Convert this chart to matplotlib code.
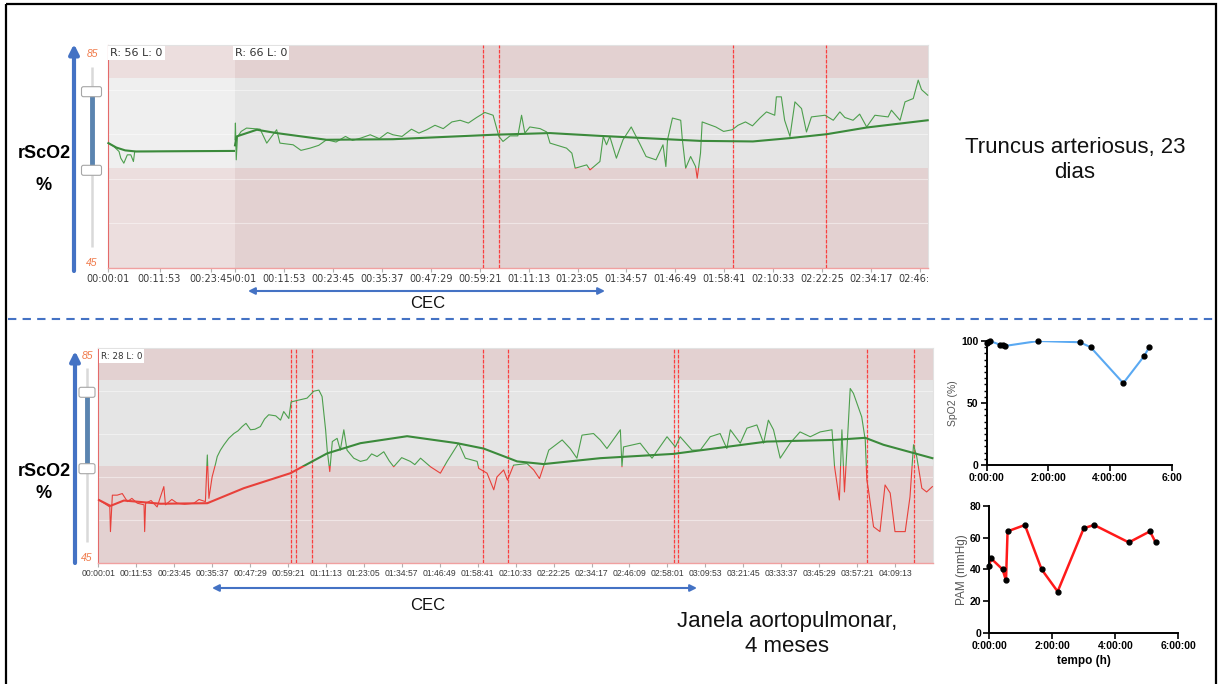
import numpy as np
import matplotlib.pyplot as plt
from matplotlib.patches import Rectangle, FancyBboxPatch
from matplotlib.transforms import Bbox, TransformedBbox

plt.rcParams['font.family'] = ['Liberation Sans', 'DejaVu Sans']

W, H = 1220, 684

# monitor scale and alarm band (rScO2 %)
Y_MIN, Y_MAX = 45, 85
LOW, HIGH = 63, 79
GRID_Y = [53, 61, 69, 77]
TICK_STEP = 712          # seconds between monitor time labels

# ── case 1: truncus arteriosus, 23 dias ──────────────────────────────
# session 1 (minutes, %)
tr1_t = [0.16, 1.4, 2.6, 3.0, 3.7, 4.5, 5.3, 5.9, 6.2, 10.0, 29.2]
tr1_v = [67.4, 66.8, 65.9, 64.7, 63.8, 65.3, 65.3, 64.1, 65.9, 65.9, 66.0]
tr1_trend_t = [0.16, 2.0, 4.0, 6.5, 29.2]
tr1_trend_v = [67.4, 66.6, 66.1, 65.9, 66.0]

# session 2 (minutes, %)
tr2_t = [0.0, 0.1, 0.3, 0.6, 1.5, 2.8, 6.1, 7.7, 10.1, 10.9,
         14.1, 16.0, 18.2, 20.3, 22.2, 24.5, 26.8, 28.5, 30.5, 32.8,
         35.0, 37.0, 38.3, 40.5, 42.8, 44.6, 46.5, 48.5, 50.5, 52.6,
         54.6, 56.6, 58.6, 60.6, 62.6, 64.0, 65.0, 66.7, 68.6, 69.5,
         70.3, 71.5, 74.0, 75.6, 76.4, 80.4, 81.7, 82.5, 85.3, 86.1,
         88.5, 89.3, 90.1, 90.9, 92.5, 94.1, 96.1, 98.1, 99.7, 102.1,
         103.8, 104.5, 104.9, 106.1, 108.1, 108.5, 109.3, 110.5, 111.7, 112.1,
         112.9, 113.3, 116.6, 118.5, 120.6, 122.0, 123.8, 125.5, 127.3, 128.9,
         130.9, 131.3, 132.5, 133.3, 134.6, 135.8, 137.4, 138.6, 139.8, 143.1,
         145.1, 146.7, 147.9, 149.9, 151.5, 153.2, 155.2, 158.4, 159.2, 161.3,
         162.5, 164.5, 165.7, 166.5, 168.0]
tr2_v = [68.0, 71.0, 64.4, 68.5, 69.5, 70.1, 69.9, 67.4, 69.8, 67.4,
         67.1, 66.1, 66.5, 67.0, 68.0, 67.6, 68.6, 67.9, 68.3, 68.9,
         68.2, 69.3, 68.9, 68.6, 69.9, 69.2, 69.8, 70.6, 70.0, 71.2,
         71.5, 71.0, 72.0, 72.9, 72.4, 68.6, 67.7, 68.7, 68.7, 72.4,
         69.2, 70.3, 70.0, 69.4, 67.4, 66.5, 65.6, 62.9, 63.5, 62.6,
         64.1, 68.6, 67.1, 68.6, 64.7, 68.0, 70.3, 67.4, 65.0, 64.4,
         67.1, 63.2, 68.0, 71.9, 71.5, 68.0, 62.9, 65.0, 63.2, 61.1,
         65.6, 71.2, 70.3, 69.5, 69.8, 70.6, 71.2, 70.5, 71.9, 73.0,
         72.4, 75.7, 75.7, 71.5, 68.6, 74.8, 73.6, 69.4, 72.1, 72.4,
         71.5, 73.0, 72.0, 71.5, 72.6, 70.3, 72.4, 72.1, 73.3, 71.5,
         74.8, 75.4, 78.7, 77.0, 76.0]
tr2_trend_t = [0.0, 0.4, 5.3, 10.1, 22.2, 38.3, 62.6, 76.4, 88.5, 112.8, 125.6, 134.6, 143.5, 153.2, 168.0]
tr2_trend_v = [67.0, 68.6, 69.8, 69.2, 68.0, 68.1, 68.9, 69.2, 68.7, 67.8, 67.7, 68.3, 69.0, 70.2, 71.5]
tr2_events = [60.2, 64.1, 120.7, 143.3]

# ── case 2: janela aortopulmonar, 4 meses ────────────────────────────
ja_t = [0.2, 1.8, 3.6, 3.8, 4.4, 5.9, 7.5, 9.1, 10.5, 12.2,
        14.3, 14.5, 14.8, 16.5, 18.4, 20.5, 21.0, 23.0, 24.7, 27.0,
        29.9, 31.5, 33.5, 34.1, 34.6, 35.6, 36.7, 37.2, 38.2, 39.3,
        40.8, 42.4, 43.7, 45.0, 46.2, 47.6, 49.0, 50.7, 52.0, 53.3,
        55.5, 57.0, 58.0, 59.6, 60.3, 63.2, 65.3, 67.4, 69.0, 70.0,
        71.1, 71.6, 72.4, 73.2, 74.7, 75.7, 76.8, 77.8, 79.9, 82.0,
        84.0, 85.5, 87.2, 89.3, 91.0, 92.4, 94.9, 97.6, 99.0, 100.8,
        103.9, 107.0, 109.1, 112.7, 114.8, 118.5, 119.0, 121.6, 123.7, 124.7,
        126.8, 128.0, 129.9, 134.1, 136.2, 138.0, 139.8, 140.9, 145.1, 147.6,
        149.7, 151.3, 154.9, 157.0, 159.1, 163.3, 163.8, 164.3, 169.5, 173.2,
        177.9, 180.5, 182.0, 185.7, 188.3, 191.4, 194.5, 196.6, 197.7, 200.8,
        202.9, 206.0, 208.1, 209.6, 211.2, 213.3, 216.4, 219.5, 222.7, 225.8,
        229.5, 230.3, 231.8, 232.6, 233.4, 234.1, 235.2, 236.2, 238.8, 239.9,
        240.4, 240.9, 242.5, 244.5, 246.1, 247.7, 249.2, 252.4, 253.9, 255.0,
        256.0, 257.6, 259.1, 260.9]
ja_v = [56.7, 56.1, 55.4, 50.8, 57.6, 57.6, 57.9, 56.4, 57.0, 56.1,
        55.8, 50.8, 56.1, 56.6, 55.4, 59.2, 55.8, 56.8, 56.1, 55.9,
        56.1, 56.8, 56.4, 65.1, 57.0, 61.0, 63.5, 64.8, 66.0, 67.0,
        68.2, 69.1, 69.6, 70.4, 71.0, 69.8, 69.9, 70.4, 71.8, 72.6,
        72.4, 71.6, 73.2, 71.9, 75.0, 75.4, 75.7, 77.0, 77.2, 76.0,
        69.8, 66.0, 62.0, 67.6, 68.2, 66.0, 69.8, 66.0, 64.5, 63.9,
        64.2, 65.3, 64.8, 65.7, 64.0, 62.9, 64.6, 63.9, 63.3, 64.5,
        62.9, 61.7, 63.9, 67.3, 64.5, 63.9, 62.6, 61.7, 58.6, 61.0,
        62.3, 60.4, 63.2, 63.5, 62.3, 60.7, 63.9, 66.0, 67.9, 66.3,
        64.5, 68.8, 69.1, 67.9, 66.3, 69.8, 62.9, 66.6, 67.3, 64.5,
        68.5, 66.6, 68.5, 66.0, 66.0, 68.5, 69.1, 66.3, 69.8, 67.3,
        70.1, 70.7, 67.3, 71.6, 69.8, 64.5, 67.3, 69.4, 68.5, 69.4,
        69.8, 62.9, 56.7, 69.8, 58.2, 65.4, 77.5, 76.6, 72.2, 67.9,
        60.4, 58.6, 51.7, 50.8, 59.5, 58.0, 50.8, 50.8, 57.3, 67.0,
        64.8, 58.9, 58.2, 59.2]
ja_trend_t = [0.2, 3.8, 8.0, 19.5, 34.1, 45.5, 60.1, 71.6, 82.0, 96.6, 112.2,
              120.5, 128.4, 131.0, 139.3, 157.0, 179.9, 209.1, 230.0, 239.9, 245.6, 260.9]
ja_trend_v = [56.7, 55.6, 56.6, 56.0, 56.1, 58.9, 61.7, 65.4, 67.3, 68.6, 67.3,
              66.3, 64.5, 63.9, 63.4, 64.5, 65.3, 67.6, 67.9, 68.3, 67.0, 64.5]
ja_events = [60.3, 61.9, 66.9, 120.2, 128.0, 180.2, 181.3, 240.3, 255.3]

# SpO2 and PAM (hours)
spo2_h = [0.0, 0.05, 0.11, 0.43, 0.54, 0.59, 1.67, 3.02, 3.37, 4.43, 5.11, 5.27]
spo2_v = [98, 99, 100, 97, 97, 96, 100, 99, 95, 66, 88, 95]
pam_h = [0.0, 0.05, 0.42, 0.53, 0.58, 1.13, 1.66, 2.17, 3.0, 3.33, 4.43, 5.1, 5.28]
pam_v = [42, 47, 40, 33, 64, 68, 40, 26, 66, 68, 57, 64, 57]
hour_ticks = [0, 2, 4, 6]
spo2_xlabels = ['0:00:00', '2:00:00', '4:00:00', '6:00']
pam_xlabels = ['0:00:00', '2:00:00', '4:00:00', '6:00:00']

# colours
GREEN = '#4d9f4d'
GREEN_TREND = '#3b8a3b'
RED = '#e8403a'
EVENT = '#ff2626'
PINK, GREY = '#e3d1d1', '#e5e5e5'
PINK_LIGHT, GREY_LIGHT = '#ecdede', '#efefef'
BLUE = '#4472c4'


def rect(x0, y0, x1, y1):
    return [x0 / W, 1 - y1 / H, (x1 - x0) / W, (y1 - y0) / H]


def hms(sec):
    return f"{sec // 3600:02d}:{sec % 3600 // 60:02d}:{sec % 60:02d}"


def monitor_axes(box, xmax, pink, grey, tick_secs, tick_font, tick_size, left=True):
    ax = fig.add_axes(rect(*box))
    ax.set_xlim(0, xmax)
    ax.set_ylim(Y_MIN, Y_MAX)
    ax.axhspan(Y_MIN, LOW, color=pink, lw=0, zorder=0)
    ax.axhspan(LOW, HIGH, color=grey, lw=0, zorder=0)
    ax.axhspan(HIGH, Y_MAX, color=pink, lw=0, zorder=0)
    for g in GRID_Y:
        ax.axhline(g, color='white', lw=0.8, alpha=0.45, zorder=1)
    ax.set_yticks([])
    for side in ('top', 'right'):
        ax.spines[side].set_color('#e2e2e2')
        ax.spines[side].set_linewidth(0.8)
    ax.spines['left'].set_visible(left)
    ax.spines['left'].set_color('#e46a6a')
    ax.spines['bottom'].set_color('#f0a0a0')
    ax.spines['bottom'].set_linewidth(1.0)
    ax.set_xticks([s / 60 for s in tick_secs], [hms(s) for s in tick_secs])
    ax.tick_params(axis='x', length=3, color='#b0b0b0', pad=1.5,
                   labelsize=tick_size, labelcolor='#3a3a3a')
    for lab in ax.get_xticklabels():
        lab.set_fontfamily(tick_font)
    return ax


def trace(ax, t, v, lw, green, z):
    # green inside the band, red below the lower alarm limit
    for col, lo, hi in ((green, LOW, Y_MAX + 5), (RED, Y_MIN - 5, LOW)):
        ln, = ax.plot(t, v, color=col, lw=lw, zorder=z, solid_joinstyle='round')
        ln.set_clip_path(Rectangle((-1000, lo), 5000, hi - lo, transform=ax.transData))


def events(ax, xs):
    for x in xs:
        ax.axvline(x, color=EVENT, lw=0.9, ls=(0, (3, 1)), zorder=3, alpha=0.85)


def tag(ax, txt, size, x=0.0):
    ax.text(x, 0.985, txt, transform=ax.transAxes, ha='left', va='top', fontsize=size,
            color='#333333', family='DejaVu Sans', zorder=5,
            bbox=dict(fc='white', ec='none', pad=1.5))


fig = plt.figure(figsize=(W / 100, H / 100), dpi=100)

# background layer in pixel coordinates
bg = fig.add_axes([0, 0, 1, 1])
bg.set_xlim(0, W)
bg.set_ylim(H, 0)
bg.axis('off')
bg.add_patch(Rectangle((6, 4), 1210, 700, fill=False, lw=1.6, ec='black', clip_on=False))
bg.plot([8, 1214], [319, 319], color=BLUE, lw=1.5, ls=(0, (4, 3)))


def slider(x, y0, y1, h_top, h_bot, hw):
    bg.plot([x, x], [y0, y1], color='#d9d9d9', lw=1.8, solid_capstyle='butt')
    bg.plot([x, x], [h_top, h_bot], color='#5a84b0', lw=3.5, solid_capstyle='butt')
    for hy in (h_top, h_bot):
        bg.add_patch(FancyBboxPatch((x - hw, hy - 5), 2 * hw, 10,
                                    boxstyle='round,pad=0,rounding_size=2',
                                    fc='white', ec='#a6a6a6', lw=0.8, zorder=3))


# left decorations: y arrows, sliders, labels
for xa, ytop, ybot in ((74, 44, 271), (75, 351, 563)):
    bg.annotate('', xy=(xa, ytop), xytext=(xa, ybot),
                arrowprops=dict(arrowstyle='-|>', color=BLUE, lw=3, mutation_scale=14,
                                shrinkA=0, shrinkB=0))
slider(91.5, 66.7, 246.7, 91.7, 170.3, 10)
slider(87, 368.3, 541.7, 392.3, 468.7, 8)
for x, y85, y45 in ((92, 54, 263), (87, 356, 558)):
    bg.text(x, y85, '85', color='#f07a4a', style='italic', fontsize=7.5, ha='center', va='center')
    bg.text(x, y45, '45', color='#f07a4a', style='italic', fontsize=7.5, ha='center', va='center')
for y1, y2 in ((153.3, 185), (471.7, 494)):
    bg.text(44, y1, 'rScO2', fontsize=13, fontweight='bold', ha='center', va='center')
    bg.text(44, y2, '%', fontsize=13, fontweight='bold', ha='center', va='center')

# CEC arrows
for x0, x1, y, ty in ((248, 605, 291, 303), (212, 697, 588, 605)):
    bg.annotate('', xy=(x1, y), xytext=(x0, y),
                arrowprops=dict(arrowstyle='<|-|>', color=BLUE, lw=1.5, mutation_scale=10,
                                shrinkA=0, shrinkB=0))
    bg.text(428, ty, 'CEC', fontsize=12, ha='center', va='center', color='#111111')

# case titles
bg.text(1075, 148, 'Truncus arteriosus, 23', fontsize=16, ha='center', va='center', color='#111111')
bg.text(1075, 173, 'dias', fontsize=16, ha='center', va='center', color='#111111')
bg.text(787, 622, 'Janela aortopulmonar,', fontsize=16, ha='center', va='center', color='#111111')
bg.text(787, 647, '4 meses', fontsize=16, ha='center', va='center', color='#111111')

# ── top monitor: two sessions ────────────────────────────────────────
ax_a1 = monitor_axes((107.7, 45, 235, 268), 29.2, PINK_LIGHT, GREY_LIGHT,
                     [1, 1 + TICK_STEP, 1 + 2 * TICK_STEP], 'DejaVu Sans', 7)
ax_a1.spines['right'].set_visible(False)
trace(ax_a1, tr1_t, tr1_v, 0.8, GREEN, 4)
trace(ax_a1, tr1_trend_t, tr1_trend_v, 1.5, GREEN_TREND, 5)
tag(ax_a1, 'R: 56 L: 0', 8, 0.02)

ax_a2 = monitor_axes((235, 45, 927.7, 268), 168.0, PINK, GREY,
                     list(range(1, 10081, TICK_STEP)), 'DejaVu Sans', 7, left=False)
trace(ax_a2, tr2_t, tr2_v, 0.8, GREEN, 4)
trace(ax_a2, tr2_trend_t, tr2_trend_v, 1.5, GREEN_TREND, 5)
events(ax_a2, tr2_events)
tag(ax_a2, 'R: 66 L: 0', 8)
# the monitor widget crops its own labels at the panel edges
clipbox = TransformedBbox(Bbox([[-0.003, -1], [1, 1]]), ax_a2.transAxes)
for lab in ax_a2.get_xticklabels():
    lab.set_clip_box(clipbox)
    lab.set_clip_on(True)

# ── bottom monitor ───────────────────────────────────────────────────
ax_b = monitor_axes((98.3, 348.3, 932.7, 562.7), 261.0, PINK, GREY,
                    list(range(1, 15001, TICK_STEP)), 'Liberation Sans', 6.2)
trace(ax_b, ja_t, ja_v, 0.8, GREEN, 4)
trace(ax_b, ja_trend_t, ja_trend_v, 1.5, GREEN_TREND, 5)
events(ax_b, ja_events)
tag(ax_b, 'R: 28 L: 0', 6.3, 0.003)


# ── SpO2 / PAM panels ────────────────────────────────────────────────
def small_axes(box, ymax, yticks, minor, xlabels):
    ax = fig.add_axes(rect(*box))
    ax.set_xlim(0, 6)
    ax.set_ylim(0, ymax)
    for side in ('top', 'right'):
        ax.spines[side].set_visible(False)
    for side in ('left', 'bottom'):
        ax.spines[side].set_linewidth(1.4)
    ax.set_xticks(hour_ticks, xlabels)
    ax.set_yticks(yticks)
    if minor:
        ax.set_yticks(np.arange(0, ymax + 1, minor), minor=True)
    ax.tick_params(length=4, width=1.2, pad=2, labelsize=7.5)
    ax.tick_params(which='minor', length=2.5, width=1.0)
    for lab in ax.get_xticklabels() + ax.get_yticklabels():
        lab.set_fontweight('bold')
    return ax


ax_s = small_axes((986.7, 341, 1171.7, 465), 100, [0, 50, 100], 5, spo2_xlabels)
ax_s.plot(spo2_h, spo2_v, color='#5aa9f2', lw=1.5, zorder=2)
ax_s.plot(spo2_h, spo2_v, 'o', color='black', ms=3.5, zorder=3, clip_on=False)
ax_s.set_ylabel('SpO2 (%)', fontsize=7.5, color='#555555', labelpad=2)

ax_p = small_axes((989.3, 506, 1178.3, 632.7), 80, [0, 20, 40, 60, 80], None, pam_xlabels)
ax_p.plot(pam_h, pam_v, color='#ff1a1a', lw=1.8, zorder=2)
ax_p.plot(pam_h, pam_v, 'o', color='black', ms=3.5, zorder=3, clip_on=False)
ax_p.set_ylabel('PAM (mmHg)', fontsize=8.5, color='#555555', labelpad=1)
ax_p.set_xlabel('tempo (h)', fontsize=8.5, fontweight='bold', labelpad=3)

fig.savefig('out.png', dpi=100)
